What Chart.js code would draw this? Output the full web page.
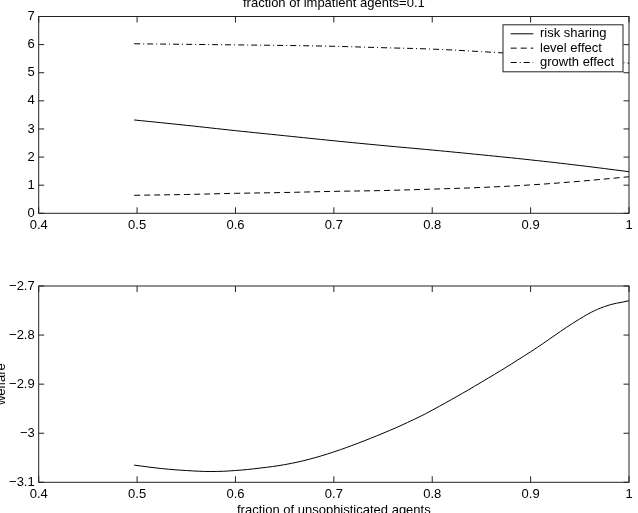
<!DOCTYPE html>
<html>
<head>
<meta charset="utf-8">
<script src="https://cdn.jsdelivr.net/npm/chart.js@4.4.0/dist/chart.umd.min.js"></script>
<style>
  html, body { margin: 0; padding: 0; background: #fff; overflow: hidden; width: 638px; height: 513px; position: relative; }
  canvas { position: absolute; left: -10px; }
  #c1 { top: -3.8px; }
  #c2 { top: 270px; }
</style>
</head>
<body>
<canvas id="c1" width="648" height="250"></canvas>
<canvas id="c2" width="648" height="250"></canvas>
<script>
// Top panel: decomposition vs fraction of unsophisticated agents
const xTop = [0.497, 0.55, 0.6, 0.65, 0.7, 0.75, 0.8, 0.85, 0.9, 0.95, 1.0];
const riskSharing = [3.32, 3.13, 2.94, 2.76, 2.58, 2.41, 2.25, 2.08, 1.90, 1.70, 1.48];
const levelEffect = [0.64, 0.67, 0.71, 0.74, 0.78, 0.81, 0.86, 0.92, 1.01, 1.14, 1.30];
const growthEffect = [6.03, 6.01, 5.99, 5.97, 5.94, 5.89, 5.84, 5.75, 5.64, 5.50, 5.34];

// Bottom panel: welfare
const xWelfare = [0.497, 0.525, 0.55, 0.575, 0.6, 0.625, 0.65, 0.675, 0.7, 0.725, 0.75, 0.775, 0.8, 0.85, 0.9, 0.95, 0.975, 1.0];
const welfare = [-3.065, -3.072, -3.076, -3.078, -3.076, -3.071, -3.064, -3.053, -3.038, -3.020, -3.000, -2.978, -2.953, -2.896, -2.834, -2.767, -2.742, -2.730];

const xTicks = [0.4, 0.5, 0.6, 0.7, 0.8, 0.9, 1];
const topTitle = 'fraction of impatient agents=0.1';
const xTitle = 'fraction of unsophisticated agents';
const yTitle = 'welfare';

const FONT = { family: "'Liberation Sans', Arial, Helvetica, sans-serif", size: 13 };
const INK = '#000';

const pts = (xs, ys) => xs.map((x, i) => ({ x: x, y: ys[i] }));
const fmt = v => String(Math.round(v * 10) / 10).replace('-', '\u2212');

// matlab style box with inward tick marks
const boxTicks = {
    id: 'boxTicks',
    afterDatasetsDraw(chart) {
        const { ctx, chartArea: a, scales } = chart;
        ctx.save();
        ctx.strokeStyle = '#222';
        ctx.lineWidth = 1;
        ctx.beginPath();
        scales.x.ticks.forEach(t => {
            const px = scales.x.getPixelForValue(t.value);
            ctx.moveTo(px, a.bottom); ctx.lineTo(px, a.bottom - 6);
            ctx.moveTo(px, a.top); ctx.lineTo(px, a.top + 6);
        });
        scales.y.ticks.forEach(t => {
            const py = scales.y.getPixelForValue(t.value);
            ctx.moveTo(a.left, py); ctx.lineTo(a.left + 5.5, py);
            ctx.moveTo(a.right, py); ctx.lineTo(a.right - 5.5, py);
        });
        ctx.stroke();
        ctx.strokeRect(a.left, a.top, a.right - a.left, a.bottom - a.top);
        ctx.restore();
    }
};

// legend box in the upper right of the plot
const boxLegend = {
    id: 'boxLegend',
    afterDraw(chart) {
        const { ctx, chartArea: a } = chart;
        const w = 120, h = 47;
        const left = a.right - 6 - w, top = a.top + 8.3;
        ctx.save();
        ctx.fillStyle = '#fff';
        ctx.fillRect(left, top, w, h);
        ctx.strokeStyle = '#222';
        ctx.lineWidth = 1;
        ctx.strokeRect(left, top, w, h);
        ctx.font = FONT.size + 'px ' + FONT.family;
        ctx.textBaseline = 'middle';
        ctx.textAlign = 'left';
        chart.data.datasets.forEach((ds, i) => {
            const y = top + 9 + i * 14.35;
            ctx.strokeStyle = ds.borderColor;
            ctx.setLineDash(ds.borderDash || []);
            ctx.beginPath();
            ctx.moveTo(left + 7.7, y);
            ctx.lineTo(left + 30.3, y);
            ctx.stroke();
            ctx.setLineDash([]);
            ctx.fillStyle = INK;
            ctx.fillText(ds.label, left + 37, y);
        });
        ctx.restore();
    }
};

function xScale(height) {
    return {
        type: 'linear',
        min: 0.4,
        max: 1,
        afterFit: s => { s.height = height; },
        afterBuildTicks: s => { s.ticks = xTicks.map(v => ({ value: v })); },
        grid: { display: false, drawTicks: false },
        border: { display: false },
        ticks: { color: INK, font: FONT, padding: 4.5, maxRotation: 0, autoSkip: false, callback: fmt }
    };
}

const lineDefaults = { borderColor: INK, borderWidth: 1, pointRadius: 0, fill: false, tension: 0.4 };

new Chart(document.getElementById('c1'), {
    type: 'line',
    data: {
        datasets: [
            { ...lineDefaults, label: 'risk sharing', data: pts(xTop, riskSharing) },
            { ...lineDefaults, label: 'level effect', data: pts(xTop, levelEffect), borderDash: [6, 4] },
            { ...lineDefaults, label: 'growth effect', data: pts(xTop, growthEffect), borderDash: [6, 3, 1, 3] }
        ]
    },
    options: {
        responsive: false,
        devicePixelRatio: 1,
        animation: false,
        layout: { padding: { top: 0, right: 9, bottom: 0, left: 0 } },
        scales: {
            x: xScale(32.7),
            y: {
                min: 0, max: 7,
                afterFit: s => { s.width = 48.7; },
                grid: { display: false, drawTicks: false },
                border: { display: false },
                ticks: { stepSize: 1, color: INK, font: FONT, padding: 4, callback: fmt }
            }
        },
        plugins: {
            legend: { display: false },
            tooltip: { enabled: false },
            title: {
                display: true, text: topTitle, fullSize: false,
                color: INK, font: { ...FONT, weight: 'normal' },
                padding: { top: 0, bottom: 4.9 }
            }
        }
    },
    plugins: [boxTicks, boxLegend]
});

new Chart(document.getElementById('c2'), {
    type: 'line',
    data: {
        datasets: [
            { ...lineDefaults, label: 'welfare', data: pts(xWelfare, welfare) }
        ]
    },
    options: {
        responsive: false,
        devicePixelRatio: 1,
        animation: false,
        layout: { padding: { top: 16, right: 9, bottom: 0, left: 0 } },
        scales: {
            x: {
                ...xScale(37.7),
                title: { display: true, text: xTitle, color: INK, font: FONT, padding: { top: 0, bottom: 1.8 } }
            },
            y: {
                min: -3.1, max: -2.7,
                afterFit: s => { s.width = 48.7; },
                grid: { display: false, drawTicks: false },
                border: { display: false },
                ticks: { stepSize: 0.1, color: INK, font: FONT, padding: 4, callback: fmt },
                title: { display: true, text: yTitle, color: INK, font: FONT, padding: { top: 3.2, bottom: 0 } }
            }
        },
        plugins: {
            legend: { display: false },
            tooltip: { enabled: false }
        }
    },
    plugins: [boxTicks]
});
</script>
</body>
</html>
